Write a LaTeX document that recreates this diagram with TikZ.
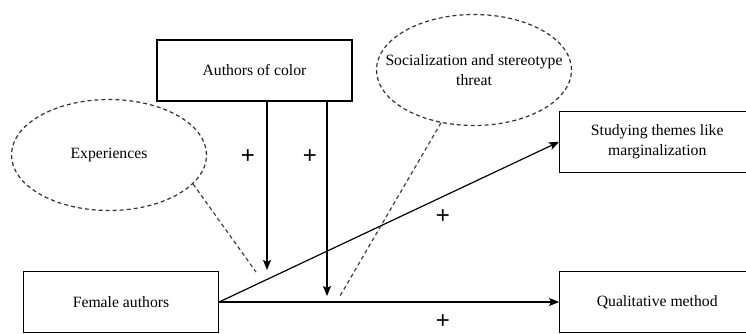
\documentclass[tikz,border=0pt]{standalone}
\usepackage{fontspec}
\setmainfont{Liberation Serif}
\newfontfamily\plusfont{Liberation Sans}
\usetikzlibrary{arrows.meta,positioning,shapes.geometric}

\begin{document}
\begin{tikzpicture}[
    x=1pt, y=1pt,
    node distance=98pt and 340pt,
    box/.style={rectangle, draw=black, line width=1.2pt, fill=white,
                align=center, font=\fontsize{15.7}{20}\selectfont,
                minimum width=195pt, minimum height=61pt, inner sep=0pt},
    cloud/.style={ellipse, draw=black!80, dashed, dash pattern=on 4pt off 3pt,
                  line width=1.2pt, minimum width=195pt, minimum height=111pt, inner sep=0pt},
    lbl/.style={align=center, font=\fontsize{15.7}{20}\selectfont, inner sep=0pt},
    sign/.style={font=\plusfont\fontsize{24}{24}\selectfont, inner sep=0pt},
    arr/.style={-{Stealth[length=10pt,width=8pt,inset=2pt]}, line width=1.2pt, black},
    link/.style={dashed, dash pattern=on 4pt off 3pt, line width=1.2pt, black!75},
]
\useasboundingbox (0,0) rectangle (746,-333);

\node[box] (female) at (121,-302) {Female authors};
\node[box, right=340pt of female] (qual) {Qualitative method};
\node[box, above=98pt of qual] (stud) {Studying themes like\\marginalization};
\node[box] (color) at (254.5,-70.5) {Authors of color};

\node[cloud] (exp) at (109,-155) {};
\node[lbl] (exptxt) at (exp) {Experiences};
\node[cloud] (soc) at (474,-70) {};
\node[lbl] (soctxt) at (soc) {Socialization and stereotype\\threat};

% end points of the moderating arrows
\coordinate (m1) at (267,-270);
\coordinate (m2) at (327,-296);
\coordinate (d1) at (256,-272);
\coordinate (d2) at (340,-296);

\draw[arr] (female.east) -- (stud.west);
\draw[arr] (female.east) -- (qual.west);
\draw[arr] (color.south -| m1) -- (m1);
\draw[arr] (color.south -| m2) -- (m2);
\draw[link] (exp.-19) -- (d1);
\draw[link] (soc.-122) -- (d2);

\node[sign] (p1) at (248,-157) {+};
\node[sign] (p2) at (310,-157) {+};
\node[sign] (p3) at (443,-217) {+};
\node[sign] (p4) at (443,-322) {+};
\end{tikzpicture}
\end{document}
